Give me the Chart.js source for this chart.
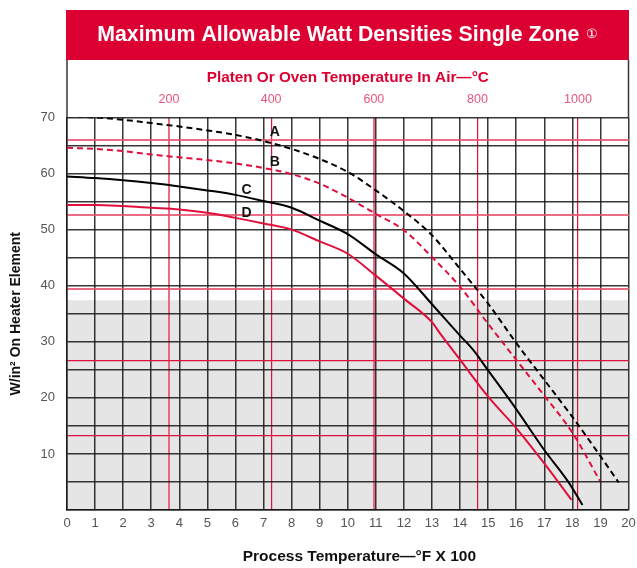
<!DOCTYPE html>
<html>
<head>
<meta charset="utf-8">
<script src="https://cdn.jsdelivr.net/npm/chart.js@4.4.0/dist/chart.umd.min.js"></script>
<style>
  body { margin: 0; background: #fff; }
</style>
</head>
<body>
<canvas id="heatChart" width="637" height="568"></canvas>
<script>
// curves: x = process temp (°F x 100), y = W/in²
const xA = [0, 1, 2, 3, 4, 5, 6, 7, 8, 9, 10, 11, 12, 13, 14, 15, 16, 17, 18, 19, 19.65];
const yA = [70.2, 70.0, 69.6, 69.0, 68.4, 67.7, 66.9, 65.8, 64.4, 62.6, 60.3, 57.0, 53.3, 49.0, 43.0, 36.8, 29.8, 23.2, 16.6, 9.6, 4.9];
const xB = [0, 1, 2, 3, 4, 5, 6, 7, 8, 9, 10, 11, 12, 13, 14, 15, 16, 17, 18, 18.98];
const yB = [64.6, 64.4, 64.0, 63.4, 62.9, 62.4, 61.8, 61.0, 59.9, 58.2, 55.7, 52.8, 49.9, 45.1, 39.8, 33.2, 26.8, 20.4, 13.8, 5.2];
const xC = [0, 1, 2, 3, 4, 5, 6, 7, 8, 9, 10, 11, 12, 13, 14, 14.46, 15, 16, 17, 17.85, 18.36];
const yC = [59.5, 59.2, 58.8, 58.3, 57.7, 57.0, 56.2, 55.1, 53.9, 51.6, 49.2, 45.6, 42.2, 36.7, 31.1, 28.6, 24.9, 18.0, 10.7, 5.05, 0.9];
const xD = [0, 1, 2, 3, 4, 5, 6, 7, 8, 9, 10, 11, 12, 13, 13.3, 14, 15, 16, 17, 17.97];
const yD = [54.4, 54.4, 54.2, 53.9, 53.6, 53.0, 52.1, 51.1, 50.0, 47.9, 45.7, 41.8, 37.7, 33.5, 31.4, 26.8, 20.2, 14.6, 8.3, 1.8];

// top (°C) scale marks and the red reference lines
const celsiusAt = [3.63, 7.27, 10.93, 14.62, 18.2];
const celsiusLabels = ['200', '400', '600', '800', '1000'];
const wattMarks = [13.3, 26.7, 39.5, 52.6, 66];
const shadedTop = 37.4;

// curve letters
const curveNames = ['A', 'B', 'C', 'D'];
const nameX = [7.4, 7.4, 6.4, 6.4];
const nameY = [67.3, 62.0, 57.1, 52.9];

const pts = (xs, ys) => xs.map((x, i) => ({x: x, y: ys[i]}));

const RED = '#dc0032';
const LINE_RED = '#e0103c';
const PINK = 'rgba(232,82,112,0.85)';
const GRID = 'rgba(20,20,20,0.85)';
const FONT = "'Liberation Sans', Arial, sans-serif";
Chart.defaults.font.family = FONT;

const bannerPlugin = {
  id: 'banner',
  beforeDraw(chart) {
    const {ctx, chartArea} = chart;
    const cx = (chartArea.left + chartArea.right) / 2;
    ctx.save();
    ctx.fillStyle = RED;
    ctx.fillRect(chartArea.left - 1, 10, chartArea.right - chartArea.left + 1.5, 50);
    // sides of the white box under the banner
    ctx.strokeStyle = GRID;
    ctx.lineWidth = 1.5;
    ctx.beginPath();
    ctx.moveTo(chartArea.left, 60); ctx.lineTo(chartArea.left, chartArea.top);
    ctx.moveTo(chartArea.right, 60); ctx.lineTo(chartArea.right, chartArea.top);
    ctx.stroke();

    const main = 'Maximum Allowable Watt Densities Single Zone';
    ctx.font = 'bold 21.3px ' + FONT;
    const w1 = ctx.measureText(main).width;
    ctx.font = '13px ' + FONT;
    const w2 = ctx.measureText('\u2460').width;
    const x0 = cx - (w1 + 7 + w2) / 2;
    ctx.fillStyle = '#fff';
    ctx.textBaseline = 'alphabetic';
    ctx.font = 'bold 21.3px ' + FONT;
    ctx.fillText(main, x0, 41);
    ctx.font = '13px ' + FONT;
    ctx.fillText('\u2460', x0 + w1 + 7, 38);
    ctx.restore();
  },
  afterDatasetsDraw(chart) {
    const {ctx} = chart;
    const xs = chart.scales.x, ys = chart.scales.y;
    ctx.save();
    ctx.font = 'bold 14px ' + FONT;
    ctx.fillStyle = '#111';
    ctx.textAlign = 'center';
    ctx.textBaseline = 'middle';
    curveNames.forEach((n, i) => {
      ctx.fillText(n, xs.getPixelForValue(nameX[i]), ys.getPixelForValue(nameY[i]));
    });
    ctx.restore();
  }
};

const curve = (data, color, dash) => ({
  data: data,
  borderColor: color,
  borderWidth: 2,
  borderDash: dash,
  pointRadius: 0,
  fill: false,
  cubicInterpolationMode: 'monotone'
});

const ctx = document.getElementById('heatChart').getContext('2d');
const chart = new Chart(ctx, {
  type: 'line',
  data: {
    datasets: [
      {
        data: [{x: 0, y: shadedTop}, {x: 20, y: shadedTop}],
        borderColor: 'transparent',
        borderWidth: 0,
        backgroundColor: '#e5e5e5',
        pointRadius: 0,
        fill: 'origin'
      },
      curve(pts(xA, yA), '#000', [6, 4]),
      curve(pts(xB, yB), LINE_RED, [6, 4]),
      curve(pts(xC, yC), '#000', []),
      curve(pts(xD, yD), LINE_RED, [])
    ]
  },
  options: {
    responsive: false,
    animation: false,
    devicePixelRatio: 1,
    layout: { padding: { top: 60, right: 8.5, left: 0, bottom: 0 } },
    plugins: {
      legend: { display: false },
      tooltip: { enabled: false },
      filler: { drawTime: 'beforeDraw' }
    },
    scales: {
      x: {
        type: 'linear', position: 'bottom', min: 0, max: 20,
        afterFit: s => { s.height = 58; s.paddingLeft = 0; s.paddingRight = 0; },
        ticks: { stepSize: 1, autoSkip: false, maxRotation: 0, padding: 6, color: '#555', font: { size: 13 } },
        grid: { color: GRID, lineWidth: 1.5, drawTicks: false },
        border: { color: GRID, width: 1.5 },
        title: {
          display: true, text: '\u2002\u2002\u2002Process Temperature\u2014\u00b0F X 100', color: '#111',
          font: { size: 15.5, weight: 'bold' }, padding: { top: 0, bottom: 2 }
        }
      },
      x2: {
        type: 'linear', position: 'top', min: 0, max: 20,
        afterBuildTicks: s => { s.ticks = celsiusAt.map(v => ({value: v})); },
        afterFit: s => { s.height = 57.5; s.paddingLeft = 0; s.paddingRight = 0; },
        ticks: {
          autoSkip: false, maxRotation: 0, padding: 10, color: '#e8557a', font: { size: 12.5 },
          callback: (v, i) => celsiusLabels[i]
        },
        grid: {
          drawTicks: false,
          color: c => (c.index === 0 || c.index === 2) ? PINK : LINE_RED,
          lineWidth: c => (c.index === 0 || c.index === 2) ? 2 : 1.2
        },
        border: { display: false },
        title: {
          display: true, text: 'Platen Or Oven Temperature In Air\u2014\u00b0C', color: RED,
          font: { size: 15.3, weight: 'bold' }, padding: { top: 9, bottom: 0 }
        }
      },
      y: {
        type: 'linear', position: 'left', min: 0, max: 70,
        afterFit: s => { s.width = 67; },
        ticks: {
          stepSize: 5, padding: 12, color: '#555', font: { size: 13 },
          callback: v => (v > 0 && v % 10 === 0) ? v : ''
        },
        grid: { color: GRID, lineWidth: 1.5, drawTicks: false },
        border: { color: GRID, width: 1.5 },
        title: {
          display: true, text: 'W/in\u00b2 On Heater Element', color: '#111',
          font: { size: 14, weight: 'bold' }, padding: { top: 8, bottom: 0 }
        }
      },
      y2: {
        type: 'linear', position: 'right', min: 0, max: 70,
        afterBuildTicks: s => { s.ticks = wattMarks.map(v => ({value: v})); },
        afterFit: s => { s.width = 0; },
        ticks: { display: false },
        grid: {
          drawTicks: false,
          color: c => c.index >= 2 ? PINK : LINE_RED,
          lineWidth: c => c.index >= 2 ? 2 : 1.2
        },
        border: { display: false }
      }
    }
  },
  plugins: [bannerPlugin]
});
</script>
</body>
</html>
